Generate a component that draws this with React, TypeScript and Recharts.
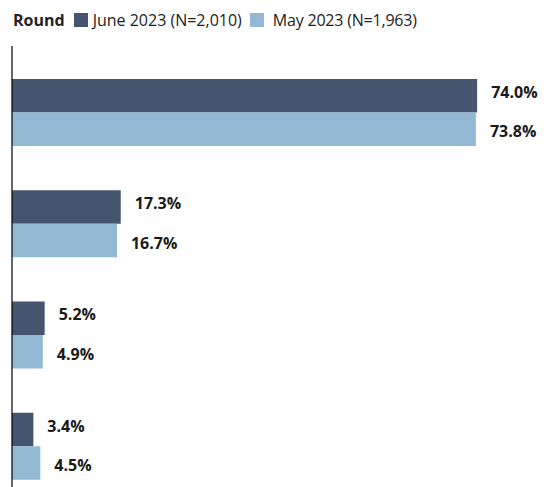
import React from 'react';
import { BarChart, Bar, XAxis, YAxis, LabelList, ReferenceLine } from 'recharts';

// category names are not shown on the chart
const categories = ['Response 1', 'Response 2', 'Response 3', 'Response 4'];
const juneValues = [74.0, 17.3, 5.2, 3.4];
const mayValues = [73.8, 16.7, 4.9, 4.5];

const seriesNames = ['June 2023 (N=2,010)', 'May 2023 (N=1,963)'];
const DARK = '#45556e';
const LIGHT = '#93b8d4';
const FONT = '"Open Sans", "Noto Sans", sans-serif';

const data = categories.map((name, i) => ({
  name,
  june: juneValues[i],
  may: mayValues[i],
}));

const pct = (v: any) => `${Number(v).toFixed(1)}%`;

// value label to the right of the bar, nudged up or down a little
const makeLabel = (dy: number) => (props: any) => {
  const { x, y, width, height, value } = props;
  return (
    <text
      x={Number(x) + Number(width) + 14}
      y={Number(y) + Number(height) / 2 + dy}
      dominantBaseline="central"
      fontFamily={FONT}
      fontSize={16}
      fontWeight={700}
      fill="#1a1a1a"
    >
      {pct(value)}
    </text>
  );
};

const Legend: React.FC = () => (
  <div
    style={{
      position: 'absolute',
      left: 13,
      top: 9,
      display: 'flex',
      alignItems: 'center',
      fontFamily: FONT,
      fontSize: 16,
      color: '#222',
      whiteSpace: 'nowrap',
    }}
  >
    <span style={{ fontWeight: 700, marginRight: 9 }}>Round</span>
    <span style={{ width: 14, height: 14, background: DARK, marginRight: 5 }} />
    <span style={{ marginRight: 8 }}>{seriesNames[0]}</span>
    <span style={{ width: 14, height: 14, background: LIGHT, marginRight: 9 }} />
    <span style={{ letterSpacing: -0.2 }}>{seriesNames[1]}</span>
  </div>
);

const App: React.FC = () => {
  return (
    <div style={{ position: 'absolute', left: 0, top: 0, width: 550, height: 487, overflow: 'hidden', background: '#fff' }}>
      <Legend />
      <BarChart
        width={550}
        height={520}
        data={data}
        layout="vertical"
        margin={{ top: 46, right: 10, bottom: 7, left: 12 }}
        barGap={0}
        barSize={33.5}
      >
        <XAxis type="number" domain={[0, 84]} hide />
        <YAxis
          type="category"
          dataKey="name"
          width={0}
          tick={false}
          tickLine={false}
          axisLine={false}
          padding={{ top: 11, bottom: 11 }}
        />
        <Bar dataKey="june" name={seriesNames[0]} fill={DARK} isAnimationActive={false}>
          <LabelList dataKey="june" content={makeLabel(-4)} />
        </Bar>
        <Bar dataKey="may" name={seriesNames[1]} fill={LIGHT} isAnimationActive={false}>
          <LabelList dataKey="may" content={makeLabel(2)} />
        </Bar>
        <ReferenceLine x={0} stroke="#000" strokeWidth={1.2} />
      </BarChart>
    </div>
  );
};

export default App;
